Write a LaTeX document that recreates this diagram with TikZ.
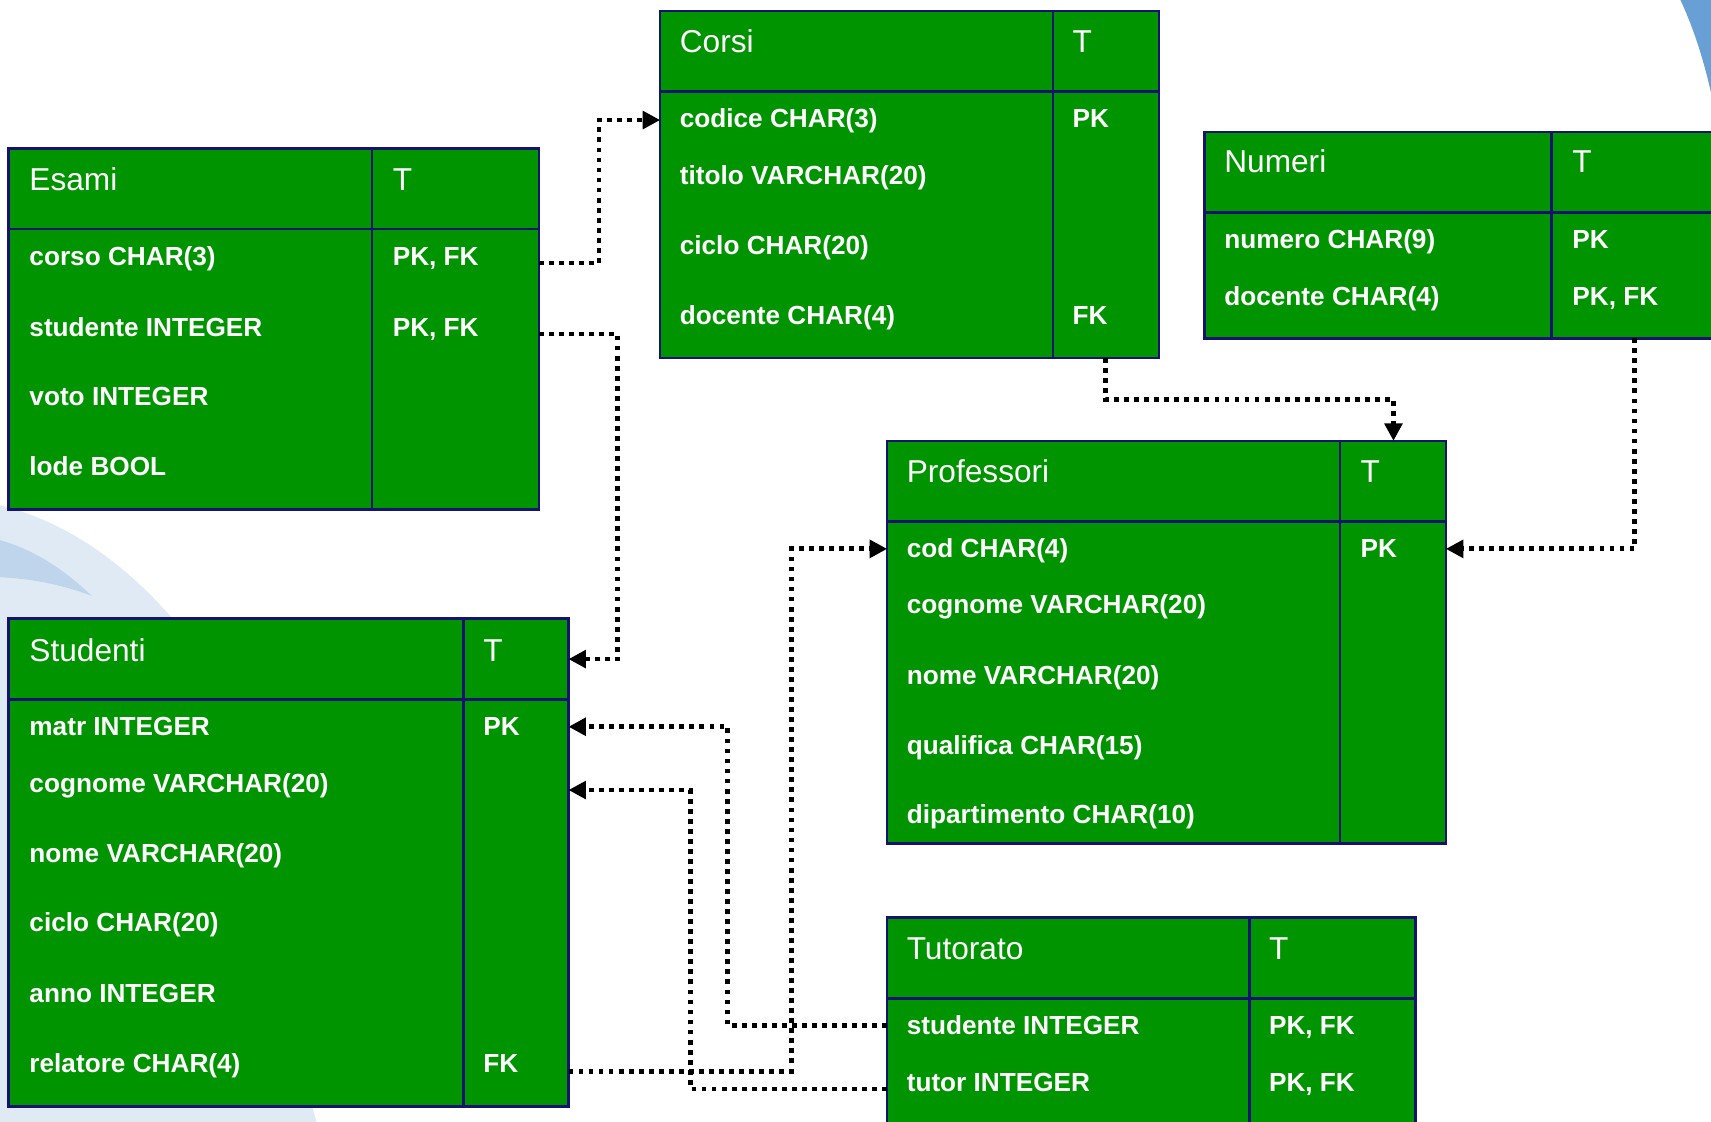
\documentclass[tikz,border=0pt]{standalone}
\usepackage{fontspec}
\setmainfont{Liberation Sans}
\usetikzlibrary{arrows.meta}

\definecolor{tblgreen}{RGB}{0,148,0}
\definecolor{tblnavy}{RGB}{20,20,110}
\definecolor{swlight}{RGB}{224,234,245}
\definecolor{swmid}{RGB}{190,213,236}
\definecolor{swdark}{RGB}{104,159,212}

\newcommand{\headfont}{\fontsize{29}{34}\selectfont}
\newcommand{\attrfont}{\fontsize{24}{28}\selectfont\bfseries}

\tikzstyle{every node}+=[inner sep=0pt,outer sep=0pt,text=white]
\tikzstyle{tbl}=[rectangle,draw=tblnavy,fill=tblgreen,line width=2.4pt,anchor=north west]
\tikzstyle{tblline}=[draw=tblnavy,line width=2.4pt]
\tikzstyle{head}=[anchor=base west,font=\headfont]
\tikzstyle{attr}=[anchor=base west,font=\attrfont]
\tikzstyle{fk}=[line width=4.4pt,dash pattern=on 4.4pt off 4.8pt,-{Triangle[length=16pt,width=16pt]}]

\begin{document}
\begin{tikzpicture}[x=1pt,y=-1pt]

\useasboundingbox (0,0) rectangle (1568,1028);
\fill[white] (0,0) rectangle (1568,1028);
\clip (0,0) rectangle (1568,1028);

\fill[swdark] (1540,0) .. controls (1553,28) and (1562,58) .. (1568,85) -- (1568,0) -- cycle;
\fill[swlight] (0,463) .. controls (60,478) and (115,515) .. (165,575) -- (290,1028) -- (0,1028) -- cycle;
\fill[swmid] (0,495) .. controls (35,505) and (62,525) .. (84,546) .. controls (55,535) and (25,530) .. (0,529) -- cycle;

\node[tbl,minimum width=486,minimum height=331] (esami) at (8,136) {};
\draw[tblline] (esami.west |- 0,210) -- (esami.east |- 0,210);
\draw[tblline] (341,0 |- esami.north) -- (341,0 |- esami.south);
\node[head] (esami-t) at (27,174.5) {Esami};
\node[head] (esami-tt) at (360,174.5) {T};
\node[attr] (esami-a1) at (27,243) {corso CHAR(3)};
\node[attr] (esami-k1) at (360,243) {PK, FK};
\node[attr] (esami-a2) at (27,308) {studente INTEGER};
\node[attr] (esami-k2) at (360,308) {PK, FK};
\node[attr] (esami-a3) at (27,372) {voto INTEGER};
\node[attr] (esami-a4) at (27,436) {lode BOOL};

\node[tbl,minimum width=457,minimum height=318] (corsi) at (605,10) {};
\draw[tblline] (corsi.west |- 0,84) -- (corsi.east |- 0,84);
\draw[tblline] (965,0 |- corsi.north) -- (965,0 |- corsi.south);
\node[head] (corsi-t) at (623,48.5) {Corsi};
\node[head] (corsi-tt) at (983,48.5) {T};
\node[attr] (corsi-a1) at (623,117) {codice CHAR(3)};
\node[attr] (corsi-k1) at (983,117) {PK};
\node[attr] (corsi-a2) at (623,169) {titolo VARCHAR(20)};
\node[attr] (corsi-a3) at (623,233) {ciclo CHAR(20)};
\node[attr] (corsi-a4) at (623,297) {docente CHAR(4)};
\node[attr] (corsi-k4) at (983,297) {FK};

\node[tbl,minimum width=500,minimum height=189] (numeri) at (1104,121) {};
\draw[tblline] (numeri.west |- 0,195) -- (numeri.east |- 0,195);
\draw[tblline] (1422,0 |- numeri.north) -- (1422,0 |- numeri.south);
\node[head] (numeri-t) at (1122,158.5) {Numeri};
\node[head] (numeri-tt) at (1441,158.5) {T};
\node[attr] (numeri-a1) at (1122,228) {numero CHAR(9)};
\node[attr] (numeri-k1) at (1441,228) {PK};
\node[attr] (numeri-a2) at (1122,280) {docente CHAR(4)};
\node[attr] (numeri-k2) at (1441,280) {PK, FK};

\node[tbl,minimum width=512,minimum height=369] (prof) at (813,404) {};
\draw[tblline] (prof.west |- 0,478) -- (prof.east |- 0,478);
\draw[tblline] (1228,0 |- prof.north) -- (1228,0 |- prof.south);
\node[head] (prof-t) at (831,442.5) {Professori};
\node[head] (prof-tt) at (1247,442.5) {T};
\node[attr] (prof-a1) at (831,511) {cod CHAR(4)};
\node[attr] (prof-k1) at (1247,511) {PK};
\node[attr] (prof-a2) at (831,562) {cognome VARCHAR(20)};
\node[attr] (prof-a3) at (831,627) {nome VARCHAR(20)};
\node[attr] (prof-a4) at (831,691) {qualifica CHAR(15)};
\node[attr] (prof-a5) at (831,755) {dipartimento CHAR(10)};

\node[tbl,minimum width=513,minimum height=447] (stud) at (8,567) {};
\draw[tblline] (stud.west |- 0,641) -- (stud.east |- 0,641);
\draw[tblline] (425,0 |- stud.north) -- (425,0 |- stud.south);
\node[head] (stud-t) at (27,606.5) {Studenti};
\node[head] (stud-tt) at (443,606.5) {T};
\node[attr] (stud-a1) at (27,674) {matr INTEGER};
\node[attr] (stud-k1) at (443,674) {PK};
\node[attr] (stud-a2) at (27,726) {cognome VARCHAR(20)};
\node[attr] (stud-a3) at (27,790) {nome VARCHAR(20)};
\node[attr] (stud-a4) at (27,854) {ciclo CHAR(20)};
\node[attr] (stud-a5) at (27,919) {anno INTEGER};
\node[attr] (stud-a6) at (27,983) {relatore CHAR(4)};
\node[attr] (stud-k6) at (443,983) {FK};

\node[tbl,minimum width=484,minimum height=220] (tut) at (813,841) {};
\draw[tblline] (tut.west |- 0,915) -- (tut.east |- 0,915);
\draw[tblline] (1145,0 |- tut.north) -- (1145,0 |- tut.south);
\node[head] (tut-t) at (831,879.5) {Tutorato};
\node[head] (tut-tt) at (1163,879.5) {T};
\node[attr] (tut-a1) at (831,948) {studente INTEGER};
\node[attr] (tut-k1) at (1163,948) {PK, FK};
\node[attr] (tut-a2) at (831,1000) {tutor INTEGER};
\node[attr] (tut-k2) at (1163,1000) {PK, FK};

\coordinate (esami-p1) at (esami.east |- 0,241);
\coordinate (esami-p2) at (esami.east |- 0,306);
\coordinate (corsi-p1) at (corsi.west |- 0,110);
\coordinate (corsi-p2) at (1013,0 |- corsi.south);
\coordinate (numeri-p1) at (1498,0 |- numeri.south);
\coordinate (prof-p0) at (1277,0 |- prof.north);
\coordinate (prof-p1) at (prof.east |- 0,503);
\coordinate (prof-p2) at (prof.west |- 0,503);
\coordinate (stud-p0) at (stud.east |- 0,604);
\coordinate (stud-p1) at (stud.east |- 0,666);
\coordinate (stud-p2) at (stud.east |- 0,724);
\coordinate (stud-p3) at (stud.east |- 0,982);
\coordinate (tut-p1) at (tut.west |- 0,940);
\coordinate (tut-p2) at (tut.west |- 0,998);

\draw[fk] (esami-p1) -- ++(55,0) |- (corsi-p1);
\draw[fk] (esami-p2) -- ++(72,0) |- (stud-p0);
\draw[fk] (corsi-p2) -- ++(0,38) -| (prof-p0);
\draw[fk] (numeri-p1) |- (prof-p1);
\draw[fk] (stud-p3) -- ++(204,0) |- (prof-p2);
\draw[fk] (tut-p1) -- ++(-146,0) |- (stud-p1);
\draw[fk] (tut-p2) -- ++(-180,0) |- (stud-p2);
\end{tikzpicture}
\end{document}
